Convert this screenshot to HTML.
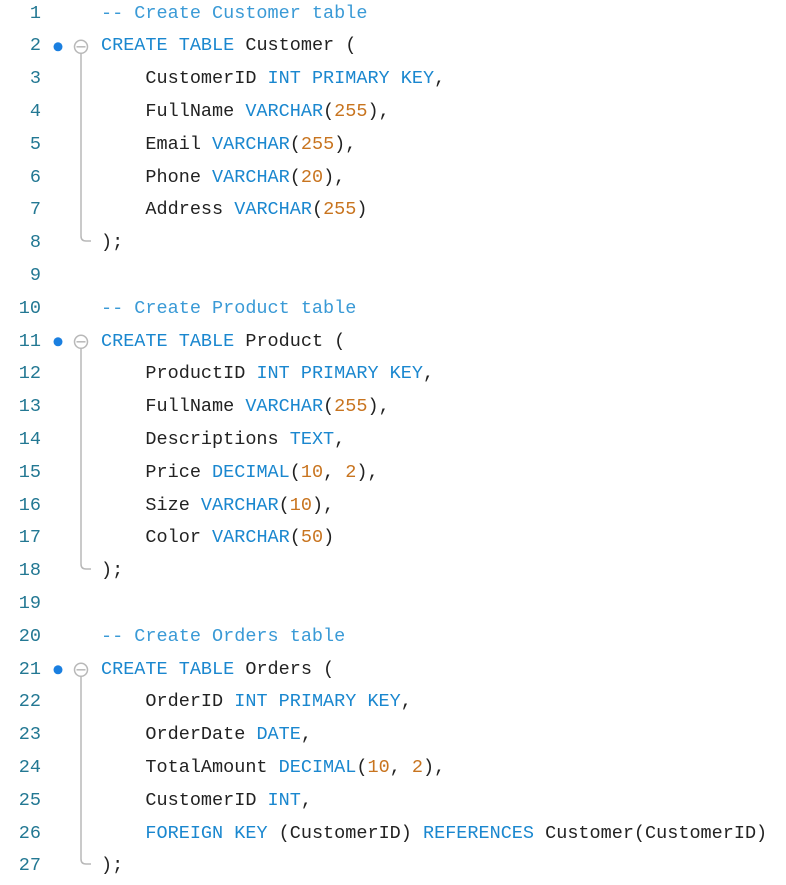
<!DOCTYPE html>
<html><head><meta charset="utf-8"><style>
html,body{margin:0;padding:0;background:#fff;width:786px;height:885px;overflow:hidden}
.w{position:relative;width:786px;height:885px;font-family:"Liberation Mono",monospace;font-size:18.5px}
.l{position:absolute;left:0;height:32.8px;line-height:32.8px;white-space:pre;width:786px}
.n{position:absolute;left:0;width:41px;text-align:right;color:#237893}
.c{position:absolute;left:101px;color:#222}
.k{color:#1a87cf}
.m{color:#3a9ad6}
.o{color:#c8741f}
</style></head><body><div class="w">
<svg width="786" height="885" style="position:absolute;left:0;top:0">
<g fill="#1a7fe0"><circle cx="58" cy="46.8" r="4.5"/><circle cx="58" cy="341.8" r="4.5"/><circle cx="58" cy="669.8" r="4.5"/></g>
<g fill="none" stroke="#b8b8b8" stroke-width="1.5">
<circle cx="81" cy="46.8" r="6.5"/><line x1="76.5" y1="46.8" x2="85.5" y2="46.8"/>
<path d="M81 53.5 V236 Q81 241 86 241 H91"/>
<circle cx="81" cy="341.8" r="6.5"/><line x1="76.5" y1="341.8" x2="85.5" y2="341.8"/>
<path d="M81 348.5 V564 Q81 569 86 569 H91"/>
<circle cx="81" cy="669.8" r="6.5"/><line x1="76.5" y1="669.8" x2="85.5" y2="669.8"/>
<path d="M81 676.5 V859 Q81 864 86 864 H91"/>
</g></svg>
<div class="l" style="top:-2.4px"><span class="n">1</span><span class="c"><span class="m">-- Create Customer table</span></span></div>
<div class="l" style="top:30.4px"><span class="n">2</span><span class="c"><span class="k">CREATE TABLE</span> Customer (</span></div>
<div class="l" style="top:63.2px"><span class="n">3</span><span class="c">    CustomerID <span class="k">INT PRIMARY KEY</span>,</span></div>
<div class="l" style="top:96px"><span class="n">4</span><span class="c">    FullName <span class="k">VARCHAR</span>(<span class="o">255</span>),</span></div>
<div class="l" style="top:128.8px"><span class="n">5</span><span class="c">    Email <span class="k">VARCHAR</span>(<span class="o">255</span>),</span></div>
<div class="l" style="top:161.6px"><span class="n">6</span><span class="c">    Phone <span class="k">VARCHAR</span>(<span class="o">20</span>),</span></div>
<div class="l" style="top:194.4px"><span class="n">7</span><span class="c">    Address <span class="k">VARCHAR</span>(<span class="o">255</span>)</span></div>
<div class="l" style="top:227.2px"><span class="n">8</span><span class="c">);</span></div>
<div class="l" style="top:260px"><span class="n">9</span></div>
<div class="l" style="top:292.8px"><span class="n">10</span><span class="c"><span class="m">-- Create Product table</span></span></div>
<div class="l" style="top:325.6px"><span class="n">11</span><span class="c"><span class="k">CREATE TABLE</span> Product (</span></div>
<div class="l" style="top:358.4px"><span class="n">12</span><span class="c">    ProductID <span class="k">INT PRIMARY KEY</span>,</span></div>
<div class="l" style="top:391.2px"><span class="n">13</span><span class="c">    FullName <span class="k">VARCHAR</span>(<span class="o">255</span>),</span></div>
<div class="l" style="top:424px"><span class="n">14</span><span class="c">    Descriptions <span class="k">TEXT</span>,</span></div>
<div class="l" style="top:456.8px"><span class="n">15</span><span class="c">    Price <span class="k">DECIMAL</span>(<span class="o">10</span>, <span class="o">2</span>),</span></div>
<div class="l" style="top:489.6px"><span class="n">16</span><span class="c">    Size <span class="k">VARCHAR</span>(<span class="o">10</span>),</span></div>
<div class="l" style="top:522.4px"><span class="n">17</span><span class="c">    Color <span class="k">VARCHAR</span>(<span class="o">50</span>)</span></div>
<div class="l" style="top:555.2px"><span class="n">18</span><span class="c">);</span></div>
<div class="l" style="top:588px"><span class="n">19</span></div>
<div class="l" style="top:620.8px"><span class="n">20</span><span class="c"><span class="m">-- Create Orders table</span></span></div>
<div class="l" style="top:653.6px"><span class="n">21</span><span class="c"><span class="k">CREATE TABLE</span> Orders (</span></div>
<div class="l" style="top:686.4px"><span class="n">22</span><span class="c">    OrderID <span class="k">INT PRIMARY KEY</span>,</span></div>
<div class="l" style="top:719.2px"><span class="n">23</span><span class="c">    OrderDate <span class="k">DATE</span>,</span></div>
<div class="l" style="top:752px"><span class="n">24</span><span class="c">    TotalAmount <span class="k">DECIMAL</span>(<span class="o">10</span>, <span class="o">2</span>),</span></div>
<div class="l" style="top:784.8px"><span class="n">25</span><span class="c">    CustomerID <span class="k">INT</span>,</span></div>
<div class="l" style="top:817.6px"><span class="n">26</span><span class="c">    <span class="k">FOREIGN KEY</span> (CustomerID) <span class="k">REFERENCES</span> Customer(CustomerID)</span></div>
<div class="l" style="top:850.4px"><span class="n">27</span><span class="c">);</span></div>
</div></body></html>
